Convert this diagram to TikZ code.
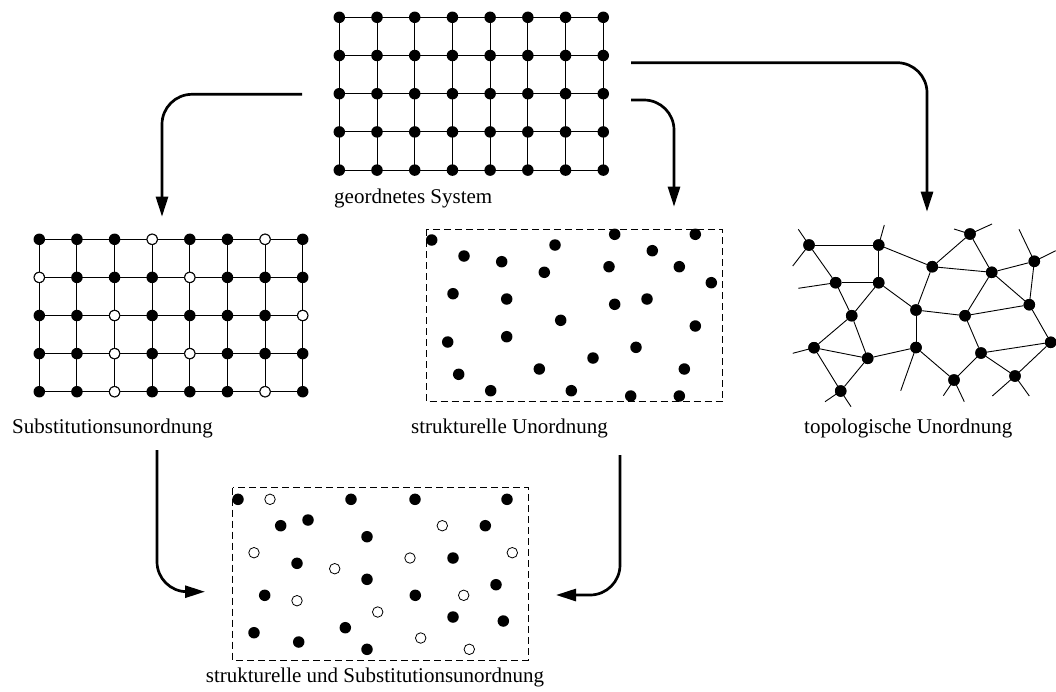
\documentclass[tikz,border=0pt]{standalone}
\usepackage{fontspec}
\setmainfont{Liberation Serif}
\usetikzlibrary{arrows.meta}

\tikzset{
  punkt/.style={circle,fill=black,inner sep=0pt,minimum size=11.5pt},
  leer/.style={circle,draw=black,fill=white,line width=0.8pt,inner sep=0pt,minimum size=10.5pt},
  gitter/.style={line width=0.9pt},
  kasten/.style={line width=0.9pt,dash pattern=on 7pt off 4pt},
  pfeil/.style={line width=2.7pt,rounded corners=30pt,-{Triangle[length=20pt,width=12pt]}},
  beschriftung/.style={anchor=base west,inner sep=0pt,font=\fontsize{21}{25}\selectfont}
}

\begin{document}
\begin{tikzpicture}[x=1pt,y=-1pt]
        \useasboundingbox (0,0) rectangle (1056,691);

        % geordnetes System
        \foreach \i in {0,...,7}
          \draw[gitter] (339.3+\i*37.71,17.3) -- (339.3+\i*37.71,170.1);
        \foreach \j in {0,...,4}
          \draw[gitter] (339.3,17.3+\j*38.2) -- (603.3,17.3+\j*38.2);
        \foreach \i in {0,...,7}
          \foreach \j in {0,...,4}
            \node[punkt] at (339.3+\i*37.71,17.3+\j*38.2) {};
        \node[beschriftung] (geordnet) at (334,203) {geordnetes System};

        % Substitutionsunordnung
        \foreach \i in {0,...,7}
          \draw[gitter] (39.3+\i*37.63,239.3) -- (39.3+\i*37.63,391.7);
        \foreach \j in {0,...,4}
          \draw[gitter] (39.3,239.3+\j*38.1) -- (302.7,239.3+\j*38.1);
        \foreach \i in {0,...,7}
          \foreach \j in {0,...,4}
            \node[punkt] at (39.3+\i*37.63,239.3+\j*38.1) {};
        \foreach \i/\j in {3/0,6/0,0/1,4/1,2/2,7/2,2/3,4/3,2/4,6/4}
          \node[leer] at (39.3+\i*37.63,239.3+\j*38.1) {};
        \node[beschriftung] (subst) at (12,433.3) {Substitutionsunordnung};

        % strukturelle Unordnung
        \draw[kasten] (426,229.3) rectangle (722.7,401.7);
        \foreach \p in {(431.7,240),(464,256),(501.7,261.7),(555,245),(544.3,272.3),
                        (614.7,234.3),(652.3,250.7),(695.3,234.3),(609,266.7),(679.3,266.7),
                        (711.3,282.7),(453,293.7),(506.7,299),(614.7,304.3),(647,299),
                        (560.7,320.3),(695.3,326),(447.7,342),(506.7,336.7),(636,347.3),
                        (593,358),(539.3,369),(684.3,369),(458.7,374.3),(490.7,390.7),
                        (571.3,390.7),(630.7,396),(679.3,396)}
          \node[punkt] at \p {};
        \node[beschriftung] (strukt) at (411,433.3) {strukturelle Unordnung};

        % topologische Unordnung
        \node[punkt] (A) at (809,245) {};
        \node[punkt] (B) at (878.7,245) {};
        \node[punkt] (C) at (835.7,282.7) {};
        \node[punkt] (D) at (878.7,282.7) {};
        \node[punkt] (E) at (932.3,266.7) {};
        \node[punkt] (F) at (970,234) {};
        \node[punkt] (G) at (991.7,272.3) {};
        \node[punkt] (H) at (1034.3,261.3) {};
        \node[punkt] (I) at (851.7,315.7) {};
        \node[punkt] (J) at (916,310) {};
        \node[punkt] (K) at (965,315.7) {};
        \node[punkt] (L) at (1029.3,304.7) {};
        \node[punkt] (M) at (814,347.7) {};
        \node[punkt] (N) at (867.7,358.3) {};
        \node[punkt] (O) at (916,347.5) {};
        \node[punkt] (P) at (981,353) {};
        \node[punkt] (Q) at (1050.7,342.3) {};
        \node[punkt] (R) at (840.7,391) {};
        \node[punkt] (S) at (954,380) {};
        \node[punkt] (T) at (1015,376) {};
        \foreach \a/\b in {A/B,A/C,B/D,C/D,C/I,D/I,D/J,B/E,E/J,E/F,E/G,F/G,G/H,G/K,G/L,
                           H/L,J/K,K/L,J/O,K/P,I/M,I/N,M/N,M/R,N/R,N/O,O/S,S/P,P/T,P/Q,L/Q,Q/T}
          \draw[gitter] (\a) -- (\b);
        % offene Enden
        \draw[gitter] (A.center) -- ++(-10.7,-15.7) (A.center) -- ++(-16.3,21);
        \draw[gitter] (B.center) -- ++(5.6,-20);
        \draw[gitter] (C.center) -- ++(-37.4,5.6);
        \draw[gitter] (M.center) -- ++(-21.3,5.6);
        \draw[gitter] (R.center) -- ++(-15.7,10.7) (R.center) -- ++(10.3,15.7);
        \draw[gitter] (O.center) -- ++(-15.3,43.3);
        \draw[gitter] (F.center) -- ++(-16,-5) (F.center) -- ++(22,-10);
        \draw[gitter] (H.center) -- ++(-15.3,-32) (H.center) -- ++(21.4,-10.6);
        \draw[gitter] (S.center) -- ++(-10.7,15.7) (S.center) -- ++(10.3,21.7);
        \draw[gitter] (T.center) -- ++(-22.7,20) (T.center) -- ++(14.3,20);
        \foreach \n in {A,...,T}
          \node[punkt] at (\n) {};
        \node[beschriftung] (topo) at (804,433.3) {topologische Unordnung};

        % strukturelle und Substitutionsunordnung
        \draw[kasten] (232.7,487.7) rectangle (528.3,660);
        \foreach \p in {(238,499.3),(351,499.3),(415,499.3),(507,499.3),(280.7,525.7),
                        (308,520),(367,536.7),(485.3,525.7),(297,563.3),(367,579.3),
                        (453,558),(264.7,595.3),(415.3,595.3),(496,584.7),(453,617),
                        (503.3,621),(254,632.7),(298.7,642),(345.3,627.7),(367,649.3)}
          \node[punkt] at \p {};
        \foreach \p in {(270,499.3),(442.3,525.7),(254,552.7),(334.7,568.7),(410,558),
                        (512.3,552.7),(297,600.7),(377.7,612),(463.7,595.3),(420.7,638),
                        (469.3,649.3)}
          \node[leer] at \p {};
        \node[anchor=base,inner sep=0pt,font=\fontsize{21}{25}\selectfont] (beide) at (375,682.7)
          {strukturelle und Substitutionsunordnung};

        % Pfeile
        \coordinate (geoL) at (302,94.3);
        \coordinate (geoR) at (631,100);
        \coordinate (geoO) at (631,62.7);
        \coordinate (substZiel) at (162,216.7);
        \coordinate (struktZiel) at (674,206.7);
        \coordinate (topoZiel) at (927,211.7);
        \coordinate (substAus) at (157,450);
        \coordinate (struktAus) at (620,455);
        \coordinate (beideL) at (205,591.7);
        \coordinate (beideR) at (556,595);
        \draw[pfeil] (geoL) -| (substZiel);
        \draw[pfeil] (geoR) -| (struktZiel);
        \draw[pfeil] (geoO) -| (topoZiel);
        \draw[pfeil] (substAus) |- (beideL);
        \draw[pfeil] (struktAus) |- (beideR);
      \end{tikzpicture}
\end{document}
